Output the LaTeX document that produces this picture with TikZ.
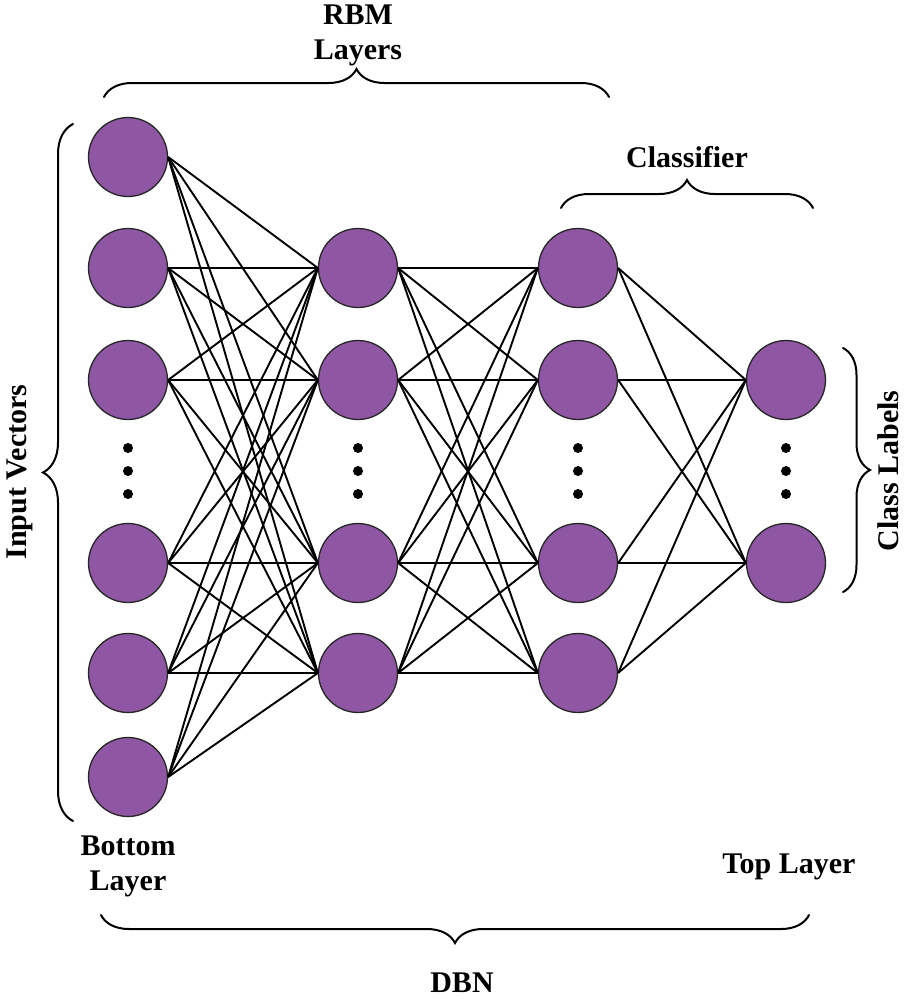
\documentclass[tikz,border=0pt]{standalone}
\usepackage{fontspec}
\setmainfont{Liberation Serif}
\usepackage{tikz}
\usetikzlibrary{decorations.pathreplacing,calc}
\definecolor{nodepurple}{RGB}{143,87,163}

\tikzset{
  neuron/.style={circle, fill=nodepurple, draw=black!85, line width=1.3pt, minimum size=79pt, inner sep=0pt},
  wire/.style={draw=black, line width=1.9pt},
  lbl/.style={font=\fontsize{30}{35}\selectfont\bfseries, align=center, inner sep=0pt},
  curly/.style={decorate, decoration={brace, amplitude=28pt}, line width=2pt, line cap=round},
  dotmark/.style={circle, fill=black, minimum size=10pt, inner sep=0pt}
}

\begin{document}
\begin{tikzpicture}[x=1pt,y=-1pt]
	\useasboundingbox (0,0) rectangle (905,999);

	% neurons, one block per layer
	\begin{scope}[every node/.style=neuron]
	    \node (L1a) at (128,157) {};
	    \node (L1b) at (128,268) {};
	    \node (L1c) at (128,380) {};
	    \node (L1d) at (128,563) {};
	    \node (L1e) at (128,673) {};
	    \node (L1f) at (128,777) {};

	    \node (L2a) at (358,268) {};
	    \node (L2b) at (358,380) {};
	    \node (L2c) at (358,563) {};
	    \node (L2d) at (358,673) {};

	    \node (L3a) at (578,268) {};
	    \node (L3b) at (578,380) {};
	    \node (L3c) at (578,563) {};
	    \node (L3d) at (578,673) {};

	    \node (L4a) at (786,380) {};
	    \node (L4b) at (786,563) {};
	\end{scope}

	% vertical dots
	\foreach \x/\n in {128/1,358/2,578/3,786/4}
	    \foreach \y/\k in {448/a,471/b,494/c}
	        \node[dotmark] (dot\n\k) at (\x,\y) {};

	% weights
	\foreach \i in {a,...,f}
	    \foreach \j in {a,...,d}
	        \draw[wire] (L1\i.east) -- (L2\j.west);
	\foreach \i in {a,...,d}
	    \foreach \j in {a,...,d}
	        \draw[wire] (L2\i.east) -- (L3\j.west);
	\foreach \i in {a,...,d}
	    \foreach \j in {a,b}
	        \draw[wire] (L3\i.east) -- (L4\j.west);

	% braces
	\coordinate (rbmL) at (104,97);
	\coordinate (rbmR) at (609,97);
	\coordinate (clsL) at (561,208);
	\coordinate (clsR) at (813,208);
	\coordinate (inT) at (73,124);
	\coordinate (inB) at (73,821);
	\coordinate (outT) at (843,348);
	\coordinate (outB) at (843,592);
	\coordinate (dbnL) at (101,915);
	\coordinate (dbnR) at (809,915);

	\draw[curly] (rbmL) -- (rbmR);
	\draw[curly] (clsL) -- (clsR);
	\draw[curly, decoration={amplitude=30pt}] (inB) -- (inT);
	\draw[curly, decoration={amplitude=27pt}] (outT) -- (outB);
	\draw[curly] (dbnR) -- (dbnL);

	% labels
	\node[lbl] (rbm) at (358,35) {RBM\\Layers};
	\node[lbl] (cls) at (687,157) {Classifier};
	\node[lbl, rotate=90] (inv) at (20,472) {Input Vectors};
	\node[lbl, rotate=90] (clab) at (888,471) {Class Labels};
	\node[lbl] (bot) at (128,866) {Bottom\\Layer};
	\node[lbl] (top) at (789,867) {Top Layer};
	\node[lbl] (dbn) at (462,983) {DBN};
\end{tikzpicture}
\end{document}
